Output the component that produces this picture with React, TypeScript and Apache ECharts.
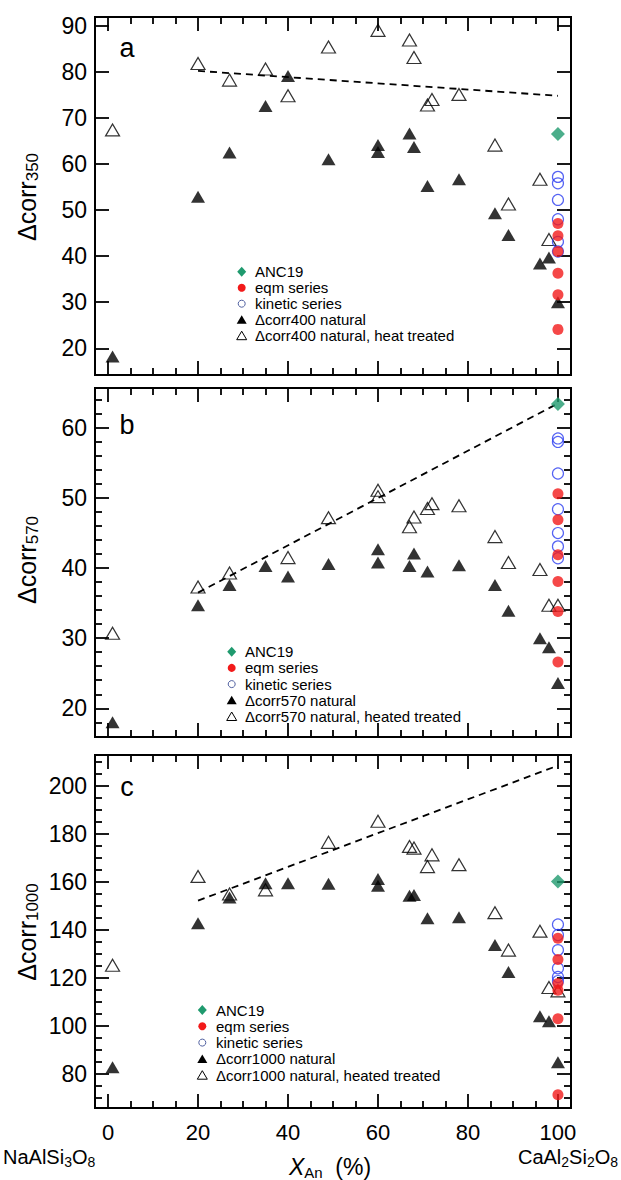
import React, { useEffect, useRef } from "react";
import * as echarts from "echarts";

const FONT = "'Liberation Sans', Arial, Helvetica, sans-serif";

// ---------- axis ticks ----------
const xTickLabels = [0, 20, 40, 60, 80, 100];
const xMinorTicks = [5, 10, 15, 25, 30, 35, 45, 50, 55, 65, 70, 75, 85, 90, 95];
const yTicksA = [20, 30, 40, 50, 60, 70, 80, 90];
const yTicksB = [20, 30, 40, 50, 60];
const yMinorB = [16, 18, 22, 24, 26, 28, 32, 34, 36, 38, 42, 44, 46, 48, 52, 54, 56, 58, 62, 64];
const yTicksC = [80, 100, 120, 140, 160, 180, 200];
const yMinorC = [70, 75, 85, 90, 95, 105, 110, 115, 125, 130, 135, 145, 150, 155, 165, 170, 175, 185, 190, 195, 205, 210];

// ---------- panel a: Δcorr350 ----------
const natXA = [1, 20, 27, 35, 40, 49, 60, 60, 67, 68, 71, 78, 86, 89, 96, 98, 100];
const natYA = [18.2, 52.9, 62.5, 72.6, 79.1, 61.0, 64.1, 62.6, 66.6, 63.7, 55.2, 56.7, 49.3, 44.6, 38.4, 39.7, 30.0];
const heatXA = [1, 20, 27, 35, 40, 49, 60, 67, 68, 71, 72, 78, 86, 89, 96, 98];
const heatYA = [67.4, 81.8, 78.2, 80.6, 74.8, 85.4, 89.0, 86.9, 83.1, 72.8, 74.0, 75.1, 64.1, 51.3, 56.7, 43.6];
const eqmYA = [47.1, 44.4, 41.0, 36.3, 31.6, 24.1];
const kinYA = [57.2, 55.8, 52.2, 48.0, 43.1, 41.0];
const ancYA = [66.5];
const trendA = [[20, 80.2], [100, 74.8]];

// ---------- panel b: Δcorr570 ----------
const natXB = [1, 20, 27, 35, 40, 49, 60, 60, 67, 68, 71, 78, 86, 89, 96, 98, 100];
const natYB = [18.0, 34.7, 37.6, 40.3, 38.8, 40.6, 42.7, 40.8, 40.3, 42.1, 39.5, 40.4, 37.6, 33.9, 30.0, 28.7, 23.6];
const heatXB = [1, 20, 27, 40, 49, 60, 60, 67, 68, 71, 72, 78, 86, 89, 96, 98, 100];
const heatYB = [30.7, 37.3, 39.3, 41.5, 47.2, 51.1, 50.2, 45.9, 47.3, 48.5, 49.2, 48.9, 44.5, 40.8, 39.8, 34.7, 34.7];
const eqmYB = [50.6, 46.9, 41.9, 38.1, 33.8, 26.6];
const kinYB = [58.5, 58.0, 53.5, 48.4, 45.0, 43.1, 41.4];
const ancYB = [63.4];
const trendB = [[20, 36.5], [100, 63.5]];

// ---------- panel c: Δcorr1000 ----------
const natXC = [1, 20, 27, 35, 40, 49, 60, 60, 67, 68, 71, 78, 86, 89, 96, 98, 100];
const natYC = [82.8, 142.8, 153.5, 159.5, 159.5, 159.2, 161.2, 158.4, 154.2, 154.6, 144.9, 145.3, 133.7, 122.5, 104.0, 102.0, 84.9];
const heatXC = [1, 20, 27, 35, 49, 60, 67, 68, 71, 72, 78, 86, 89, 96, 98, 100];
const heatYC = [125.3, 162.3, 155.0, 156.7, 176.5, 185.3, 174.8, 174.1, 166.4, 171.3, 167.2, 147.2, 131.6, 139.5, 116.0, 114.6];
const eqmYC = [136.5, 127.7, 117.7, 114.9, 103.0, 71.3];
const kinYC = [142.3, 137.9, 131.6, 124.0, 120.4, 118.7];
const ancYC = [160.2];
const trendC = [[20, 152.2], [100, 208.5]];

const legendA = ["ANC19", "eqm series", "kinetic series", "Δcorr400 natural", "Δcorr400 natural, heat treated"];
const legendB = ["ANC19", "eqm series", "kinetic series", "Δcorr570 natural", "Δcorr570 natural, heated treated"];
const legendC = ["ANC19", "eqm series", "kinetic series", "Δcorr1000 natural", "Δcorr1000 natural, heated treated"];

const GREEN = "#1f9a6e";
const RED = "#f21a1a";
const BLUE = "#2a3cf0";

const XMIN = -2.9;
const XMAX = 102.9;

const grids = [
  { top: 17, height: 358, ymin: 14.2, ymax: 91.9, major: yTicksA, minor: null as number[] | null },
  { top: 388, height: 349, ymin: 15.9, ymax: 65.7, major: yTicksB, minor: yMinorB },
  { top: 755, height: 353, ymin: 65.8, ymax: 212.9, major: yTicksC, minor: yMinorC },
];

function tickStyle(len: number) {
  return { show: true, inside: true, length: len, lineStyle: { color: "#000", width: 1.8 } };
}

const hiddenLine = { show: false, onZero: false };

function buildXAxes(p: number) {
  const base = {
    gridIndex: p,
    type: "value",
    min: XMIN,
    max: XMAX,
    axisLine: hiddenLine,
    splitLine: { show: false },
  };
  const showLabels = p === 2;
  return [
    {
      ...base,
      position: "bottom",
      axisTick: { ...tickStyle(14), customValues: xTickLabels },
      axisLabel: {
        show: showLabels,
        customValues: xTickLabels,
        fontSize: 22,
        fontFamily: FONT,
        color: "#000",
        margin: 13,
      },
    },
    { ...base, position: "bottom", axisTick: { ...tickStyle(7), customValues: xMinorTicks }, axisLabel: { show: false } },
    { ...base, position: "top", axisTick: { ...tickStyle(14), customValues: xTickLabels }, axisLabel: { show: false } },
    { ...base, position: "top", axisTick: { ...tickStyle(7), customValues: xMinorTicks }, axisLabel: { show: false } },
  ];
}

function buildYAxes(p: number) {
  const g = grids[p];
  const base = {
    gridIndex: p,
    type: "value",
    min: g.ymin,
    max: g.ymax,
    axisLine: hiddenLine,
    splitLine: { show: false },
  };
  const minor = g.minor;
  return [
    {
      ...base,
      position: "left",
      axisTick: { ...tickStyle(14), customValues: g.major },
      axisLabel: {
        show: true,
        customValues: g.major,
        fontSize: 23,
        fontFamily: FONT,
        color: "#000",
        margin: 8,
      },
    },
    minor
      ? { ...base, position: "left", axisTick: { ...tickStyle(7), customValues: minor }, axisLabel: { show: false } }
      : { ...base, position: "left", show: false },
    { ...base, position: "right", axisTick: { ...tickStyle(14), customValues: g.major }, axisLabel: { show: false } },
    minor
      ? { ...base, position: "right", axisTick: { ...tickStyle(7), customValues: minor }, axisLabel: { show: false } }
      : { ...base, position: "right", show: false },
  ];
}

function pairs(xs: number[], ys: number[]) {
  return xs.map((x, i) => [x, ys[i]]);
}
function atFull(ys: number[]) {
  return ys.map((y) => [100, y]);
}

function panelSeries(
  p: number,
  natX: number[],
  natY: number[],
  heatX: number[],
  heatY: number[],
  eqm: number[],
  kin: number[],
  anc: number[],
  trend: number[][]
) {
  const idx = { xAxisIndex: p * 4, yAxisIndex: p * 4, silent: true };
  return [
    {
      ...idx,
      type: "line",
      data: trend,
      symbol: "none",
      lineStyle: { color: "#000", width: 1.8, type: [7, 5] },
      z: 1,
    },
    {
      ...idx,
      type: "scatter",
      name: "heat",
      data: pairs(heatX, heatY),
      symbol: "triangle",
      symbolSize: [14, 12],
      itemStyle: { color: "rgba(255,255,255,0)", borderColor: "#000", borderWidth: 1.2 },
      z: 2,
    },
    {
      ...idx,
      type: "scatter",
      name: "natural",
      data: pairs(natX, natY),
      symbol: "triangle",
      symbolSize: [14, 12],
      itemStyle: { color: "#000" },
      z: 3,
    },
    {
      ...idx,
      type: "scatter",
      name: "kinetic series",
      data: atFull(kin),
      symbol: "circle",
      symbolSize: 11,
      itemStyle: { color: "rgba(255,255,255,0)", borderColor: BLUE, borderWidth: 1.2 },
      z: 4,
    },
    {
      ...idx,
      type: "scatter",
      name: "eqm series",
      data: atFull(eqm),
      symbol: "circle",
      symbolSize: 11,
      itemStyle: { color: RED },
      z: 5,
    },
    {
      ...idx,
      type: "scatter",
      name: "ANC19",
      data: atFull(anc),
      symbol: "diamond",
      symbolSize: [14, 14],
      itemStyle: { color: GREEN },
      z: 6,
    },
  ];
}

function legendGraphics(mx: number, tx: number, y0: number, step: number, names: string[]) {
  const els: any[] = [];
  names.forEach((name, i) => {
    const cy = y0 + i * step;
    if (i === 0) {
      els.push({
        type: "polygon",
        shape: { points: [[mx, cy - 5], [mx + 4.5, cy], [mx, cy + 5], [mx - 4.5, cy]] },
        style: { fill: GREEN },
      });
    } else if (i === 1) {
      els.push({ type: "circle", shape: { cx: mx, cy, r: 4 }, style: { fill: RED } });
    } else if (i === 2) {
      els.push({ type: "circle", shape: { cx: mx, cy, r: 3.5 }, style: { fill: "none", stroke: "#5060a0", lineWidth: 1 } });
    } else if (i === 3) {
      els.push({
        type: "polygon",
        shape: { points: [[mx, cy - 4.5], [mx + 5, cy + 4], [mx - 5, cy + 4]] },
        style: { fill: "#000" },
      });
    } else {
      els.push({
        type: "polygon",
        shape: { points: [[mx, cy - 4.5], [mx + 5, cy + 4], [mx - 5, cy + 4]] },
        style: { fill: "none", stroke: "#000", lineWidth: 1 },
      });
    }
    els.push({
      type: "text",
      x: tx,
      y: cy,
      style: { text: name, fontSize: 15, fontFamily: FONT, fill: "#000", align: "left", verticalAlign: "middle" },
    });
  });
  return els;
}

function yTitle(cy: number, sub: string) {
  return {
    type: "text",
    x: 27,
    y: cy,
    rotation: Math.PI / 2,
    style: {
      text: `{m|Δcorr}{s|${sub}}`,
      align: "center",
      verticalAlign: "middle",
      fill: "#000",
      rich: {
        m: { fontSize: 25, fontFamily: FONT, fill: "#000" },
        s: { fontSize: 17, fontFamily: FONT, fill: "#000", padding: [11, 0, 0, 0] },
      },
    },
  };
}

function letter(text: string, cy: number) {
  return {
    type: "text",
    x: 127,
    y: cy,
    style: { text, fontSize: 27, fontFamily: FONT, fill: "#000", align: "center", verticalAlign: "middle" },
  };
}

function formula(x: number, align: string, text: string) {
  return {
    type: "text",
    x,
    y: 1157,
    style: {
      text,
      align,
      verticalAlign: "middle",
      fill: "#000",
      rich: {
        m: { fontSize: 20, fontFamily: FONT, fill: "#000" },
        s: { fontSize: 14, fontFamily: FONT, fill: "#000", padding: [9, 0, 0, 0] },
      },
    },
  };
}

export default function App() {
  const ref = useRef<HTMLDivElement>(null);

  useEffect(() => {
    document.body.style.margin = "0";
    if (!ref.current) return;
    const chart = echarts.init(ref.current, null, { renderer: "svg" });

    const xAxis = [0, 1, 2].flatMap((p) => buildXAxes(p));
    const yAxis = [0, 1, 2].flatMap((p) => buildYAxes(p));

    const series = [
      ...panelSeries(0, natXA, natYA, heatXA, heatYA, eqmYA, kinYA, ancYA, trendA),
      ...panelSeries(1, natXB, natYB, heatXB, heatYB, eqmYB, kinYB, ancYB, trendB),
      ...panelSeries(2, natXC, natYC, heatXC, heatYC, eqmYC, kinYC, ancYC, trendC),
    ];

    const graphic = [
      yTitle(197, "350"),
      yTitle(560, "570"),
      yTitle(932, "1000"),
      letter("a", 48),
      letter("b", 425),
      letter("c", 787),
      formula(3, "left", "{m|NaAlSi}{s|3}{m|O}{s|8}"),
      formula(618, "right", "{m|CaAl}{s|2}{m|Si}{s|2}{m|O}{s|8}"),
      {
        type: "text",
        x: 330,
        y: 1167,
        style: {
          text: "{i|X}{s|An}{m|  (%)}",
          align: "center",
          verticalAlign: "middle",
          fill: "#000",
          rich: {
            i: { fontSize: 23, fontFamily: FONT, fontStyle: "italic", fill: "#000" },
            m: { fontSize: 23, fontFamily: FONT, fill: "#000" },
            s: { fontSize: 15, fontFamily: FONT, fill: "#000", padding: [10, 0, 0, 0] },
          },
        },
      },
      ...legendGraphics(241.7, 255, 271.7, 16, legendA),
      ...legendGraphics(231.7, 245, 651.7, 16.2, legendB),
      ...legendGraphics(202.3, 216, 1010, 16.3, legendC),
    ];

    chart.setOption({
      animation: false,
      backgroundColor: "#fff",
      grid: grids.map((g) => ({
        left: 95,
        width: 476,
        top: g.top,
        height: g.height,
        show: true,
        borderColor: "#000",
        borderWidth: 2,
        backgroundColor: "rgba(0,0,0,0)",
      })),
      xAxis,
      yAxis,
      series,
      graphic,
    });

    return () => {
      chart.dispose();
    };
  }, []);

  return <div ref={ref} style={{ width: 621, height: 1180 }} />;
}
